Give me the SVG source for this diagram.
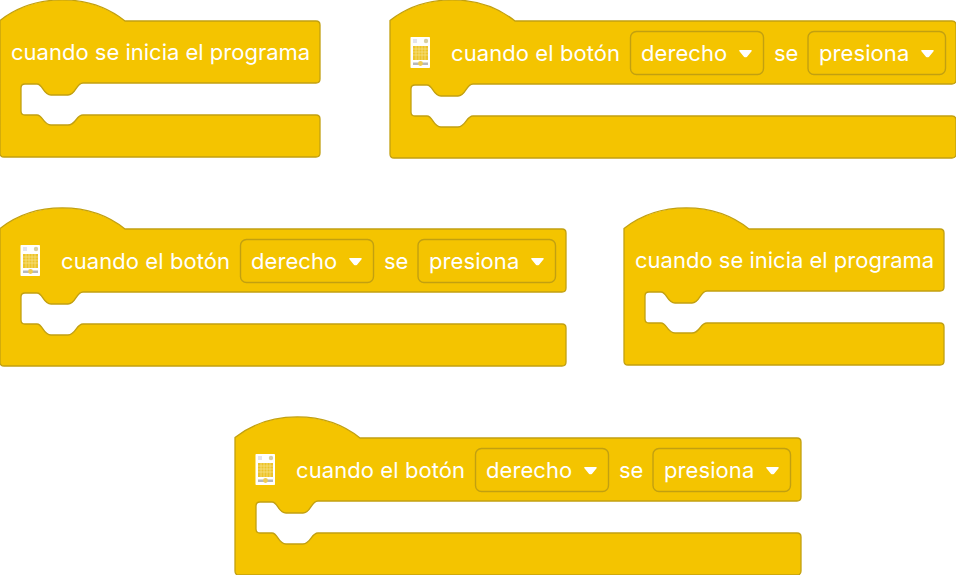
<svg xmlns="http://www.w3.org/2000/svg" xmlns:xlink="http://www.w3.org/1999/xlink" width="956" height="575" viewBox="0 0 956 575">
<style>
.b{fill:#f4c400;stroke:#c2a010;stroke-width:1.3}
.t{fill:#fff;font-family:Inter,"Liberation Sans",sans-serif;font-size:22px}
.s{letter-spacing:0.08px}
.d{fill:#f4c400;stroke:#c2a010;stroke-width:1.4}
.a{fill:#fff;stroke:#fff;stroke-width:1.5;stroke-linejoin:round}
</style>
<defs>
<path id="sa" class="b" d="M0 20.500C35 -7 90 -7 125 21H316Q320 21 320 25V79Q320 83 316 83H83C76 83 76 95 68 95H51C43 95 43 84 37 84H25Q21 84 21 88V111Q21 115 25 115H37C43 115 43 125 51 125H68C76 125 76 115 83 115H316Q320 115 320 119V153Q320 157 316 157H4Q0 157 0 153Z"/>
<path id="sb" class="b" d="M0 20.500C35 -7 90 -7 125 21H562Q566 21 566 25V80Q566 84 562 84H83C76 84 76 96 68 96H51C43 96 43 85 37 85H25Q21 85 21 89V112Q21 116 25 116H37C43 116 43 127 51 127H68C76 127 76 116 83 116H562Q566 116 566 120V154Q566 158 562 158H4Q0 158 0 154Z"/>
<path id="ar" class="a" d="M-5.500 -2.800H5.500L1 2.800Q0 3.400 -1 2.800Z"/>
<g id="ic">
<rect x="20.500" y="37" width="19.500" height="31" rx="0.800" fill="#fff"/>
<rect x="23" y="39" width="4" height="4" fill="#e4e4ec"/>
<circle cx="36" cy="41" r="2.200" fill="#d8cfa0"/>
<rect x="23" y="46" width="15" height="14" fill="#edc42a"/>
<path d="M23 49H38M23 52H38M23 55H38M26 46V60M29 46V60M32 46V60M35 46V60" stroke="#f8e48c" stroke-width="0.700" fill="none"/>
<rect x="23" y="62.500" width="15" height="2.500" fill="#b8b8b8"/>
<circle cx="30.500" cy="63.500" r="2.400" fill="#f0cc50"/>
</g>
<g id="bt">
<use xlink:href="#sb"/>
<use xlink:href="#ic"/>
<text class="t s" x="61" y="61">cuando el botón</text>
<rect class="d" x="240.500" y="31.500" width="133" height="43" rx="6"/>
<text class="t s" x="251" y="61">derecho</text>
<use xlink:href="#ar" x="355.500" y="53.500"/>
<text class="t" x="384" y="61">se</text>
<rect class="d" x="418" y="31.500" width="137.500" height="43" rx="6"/>
<text class="t s" x="429" y="61">presiona</text>
<use xlink:href="#ar" x="537.500" y="53.500"/>
</g>
</defs>
<g id="block-start-1"><use xlink:href="#sa"/><text class="t" x="11" y="60">cuando se inicia el programa</text></g>
<g id="block-button-1" transform="translate(390,0)"><use xlink:href="#bt"/></g>
<g id="block-button-2" transform="translate(0,208)"><use xlink:href="#bt"/></g>
<g id="block-start-2" transform="translate(624,208)"><use xlink:href="#sa"/><text class="t" x="11" y="60">cuando se inicia el programa</text></g>
<g id="block-button-3" transform="translate(235,417)"><use xlink:href="#bt"/></g>
<g id="connectors"/>
</svg>
